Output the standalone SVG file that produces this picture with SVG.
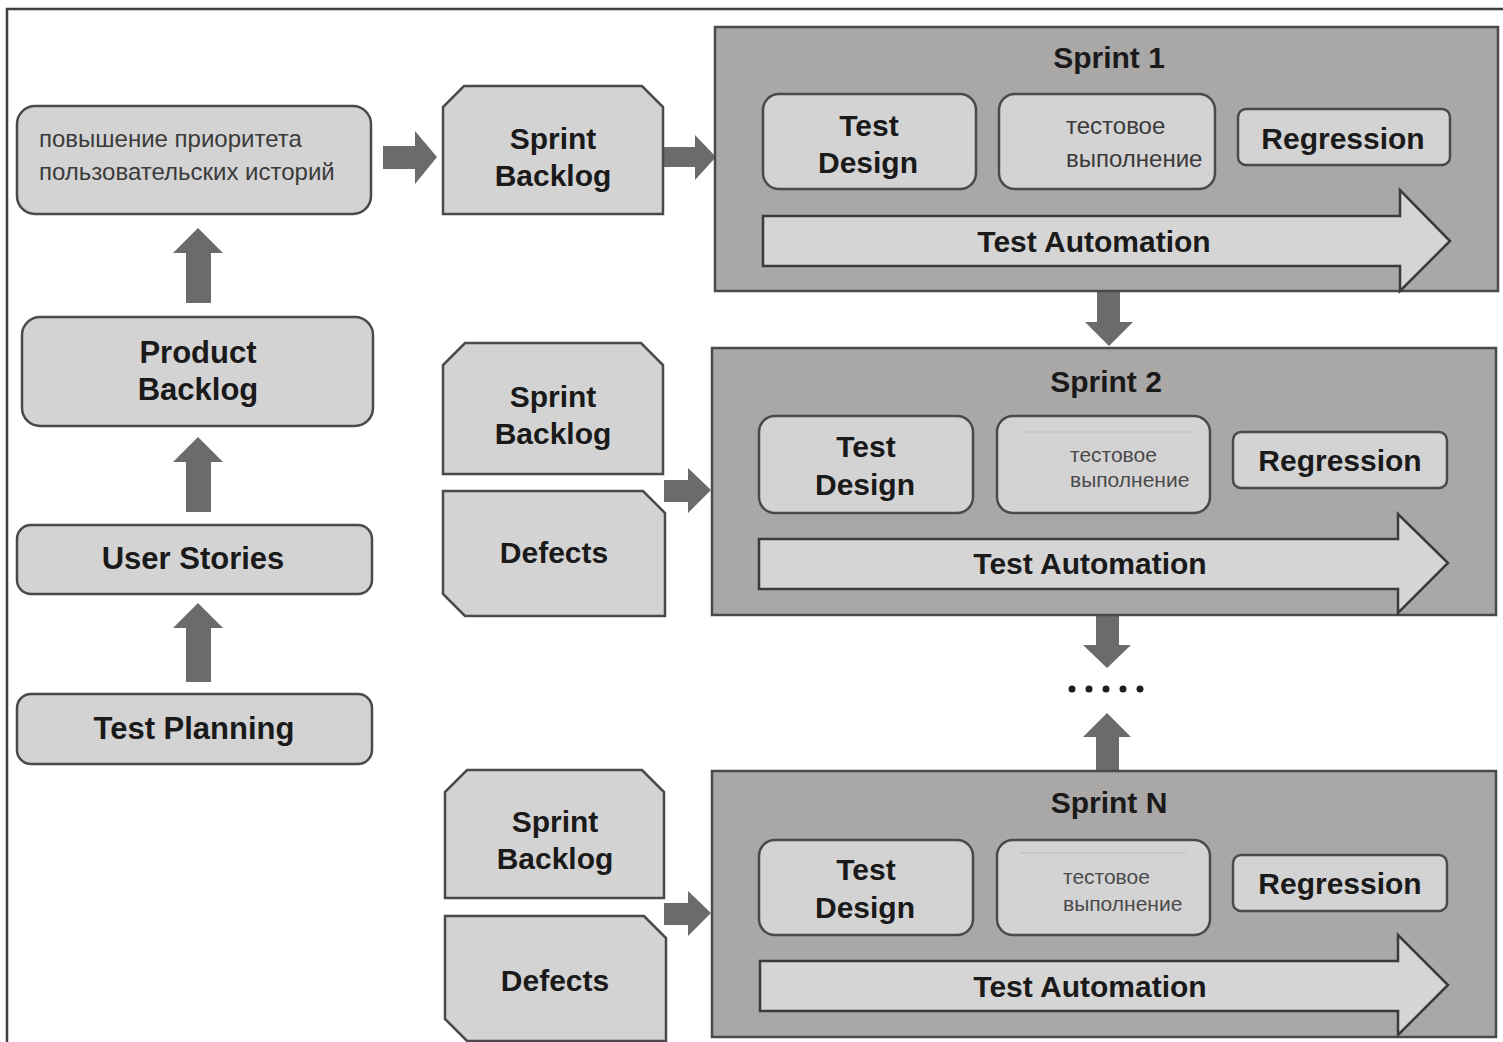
<svg xmlns="http://www.w3.org/2000/svg" width="1503" height="1042" viewBox="0 0 1503 1042">
  <style>
    .frame { fill: none; stroke: #3f3f3f; stroke-width: 2.5; }
    .sprint { fill: #aaa7a7; stroke: #4a4a4a; stroke-width: 2.5; }
    .box { fill: #d4d3d4; stroke: #4a4a4a; stroke-width: 2.5; }
    .flow { fill: #d6d5d6; stroke: #3a3a3a; stroke-width: 2.5; stroke-linejoin: miter; }
    .arrow { fill: #6d6a6b; stroke: none; }
    .dot { fill: #1e1e1e; }
    .lbl { font-family: "Liberation Sans", Arial, sans-serif; font-weight: bold; font-size: 30px; fill: #1a1a1a; text-anchor: middle; }
    .lbl31 { font-size: 31px; }
    .ru { font-family: "Liberation Sans", Arial, sans-serif; font-size: 24px; fill: #3a3a3a; }
    .ru-s { font-size: 21px; fill: #4a4a4a; }
    .artifact { stroke: #bdbcbd; stroke-width: 1; fill: none; }
  </style>

  <rect x="0" y="0" width="1503" height="1042" fill="#ffffff"/>
  <!-- outer frame: top and left edges -->
  <path class="frame" d="M7 1042 V9 H1503"/>

  <!-- connectors -->
  <g id="connectors">
    <!-- left column, upward -->
    <polygon class="arrow" points="186,303 211,303 211,253 223,253 198,228 173,253 186,253"/>
    <polygon class="arrow" points="186,512 211,512 211,462 223,462 198,437 173,462 186,462"/>
    <polygon class="arrow" points="186,682 211,682 211,628 223,628 198,603 173,628 186,628"/>
    <!-- priority -> sprint backlog -->
    <polygon class="arrow" points="383,146 415,146 415,131 437,157 415,184 415,169 383,169"/>
    <!-- sprint backlog -> sprint 1 -->
    <polygon class="arrow" points="664,147 695,147 695,135 716,157 695,180 695,167 664,167"/>
    <!-- backlog/defects -> sprint 2 -->
    <polygon class="arrow" points="664,480 688,480 688,468 711,490 688,513 688,502 664,502"/>
    <!-- backlog/defects -> sprint N -->
    <polygon class="arrow" points="664,903 688,903 688,891 711,913 688,936 688,925 664,925"/>
    <!-- sprint 1 -> sprint 2 -->
    <polygon class="arrow" points="1097,291 1120,291 1120,322 1133,322 1109,346 1085,322 1097,322"/>
    <!-- sprint 2 -> ... -->
    <polygon class="arrow" points="1096,615 1119,615 1119,645 1131,645 1107,668 1083,645 1096,645"/>
    <!-- sprint N -> ... -->
    <polygon class="arrow" points="1096,771 1119,771 1119,737 1131,737 1107,713 1083,737 1096,737"/>
    <!-- continuation dots -->
    <circle class="dot" cx="1072" cy="689" r="3.5"/>
    <circle class="dot" cx="1089" cy="689" r="3.5"/>
    <circle class="dot" cx="1106" cy="689" r="3.5"/>
    <circle class="dot" cx="1123" cy="689" r="3.5"/>
    <circle class="dot" cx="1140" cy="689" r="3.5"/>
  </g>

  <!-- left column -->
  <g id="priority">
    <rect class="box" x="17" y="106" width="354" height="108" rx="18"/>
    <text class="ru" x="39" y="147">повышение приоритета</text>
    <text class="ru" x="39" y="180">пользовательских историй</text>
  </g>
  <g id="product-backlog">
    <rect class="box" x="22" y="317" width="351" height="109" rx="18"/>
    <text class="lbl lbl31" x="198" y="363">Product</text>
    <text class="lbl lbl31" x="198" y="400">Backlog</text>
  </g>
  <g id="user-stories">
    <rect class="box" x="17" y="525" width="355" height="69" rx="14"/>
    <text class="lbl lbl31" x="193" y="569">User Stories</text>
  </g>
  <g id="test-planning">
    <rect class="box" x="17" y="694" width="355" height="70" rx="14"/>
    <text class="lbl lbl31" x="194" y="739">Test Planning</text>
  </g>

  <!-- sprint inputs -->
  <g id="sprint-backlog-1">
    <polygon class="box" points="443,214 443,107 464,86 642,86 663,107 663,214"/>
    <text class="lbl" x="553" y="149">Sprint</text>
    <text class="lbl" x="553" y="186">Backlog</text>
  </g>
  <g id="sprint-backlog-2">
    <polygon class="box" points="443,474 443,365 465,343 641,343 663,365 663,474"/>
    <text class="lbl" x="553" y="407">Sprint</text>
    <text class="lbl" x="553" y="444">Backlog</text>
  </g>
  <g id="defects-2">
    <polygon class="box" points="443,491 643,491 665,513 665,616 465,616 443,594"/>
    <text class="lbl" x="554" y="563">Defects</text>
  </g>
  <g id="sprint-backlog-n">
    <polygon class="box" points="445,898 445,792 467,770 642,770 664,792 664,898"/>
    <text class="lbl" x="555" y="832">Sprint</text>
    <text class="lbl" x="555" y="869">Backlog</text>
  </g>
  <g id="defects-n">
    <polygon class="box" points="445,916 644,916 666,938 666,1041 467,1041 445,1019"/>
    <text class="lbl" x="555" y="991">Defects</text>
  </g>

  <!-- sprint 1 -->
  <g id="sprint-1">
    <rect class="sprint" x="715" y="27" width="783" height="264"/>
    <text class="lbl" x="1109" y="68">Sprint 1</text>
    <rect class="box" x="763" y="94" width="213" height="95" rx="16"/>
    <text class="lbl" x="869" y="136">Test</text>
    <text class="lbl" x="868" y="173">Design</text>
    <rect class="box" x="999" y="94" width="216" height="95" rx="16"/>
    <text class="ru" x="1066" y="134">тестовое</text>
    <text class="ru" x="1066" y="167">выполнение</text>
    <rect class="box" x="1238" y="109" width="212" height="56" rx="8"/>
    <text class="lbl" x="1343" y="149">Regression</text>
    <polygon class="flow" points="763,216 1400,216 1400,190 1450,241 1400,291 1400,266 763,266"/>
    <text class="lbl" x="1094" y="252">Test Automation</text>
  </g>

  <!-- sprint 2 -->
  <g id="sprint-2">
    <rect class="sprint" x="712" y="348" width="784" height="267"/>
    <text class="lbl" x="1106" y="392">Sprint 2</text>
    <rect class="box" x="759" y="416" width="214" height="97" rx="16"/>
    <text class="lbl" x="866" y="457">Test</text>
    <text class="lbl" x="865" y="495">Design</text>
    <rect class="box" x="997" y="416" width="213" height="97" rx="16"/>
    <path class="artifact" d="M1022 432 H1190"/>
    <text class="ru ru-s" x="1070" y="462">тестовое</text>
    <text class="ru ru-s" x="1070" y="487">выполнение</text>
    <rect class="box" x="1233" y="432" width="214" height="56" rx="8"/>
    <text class="lbl" x="1340" y="471">Regression</text>
    <polygon class="flow" points="759,539 1398,539 1398,514 1448,563 1398,613 1398,589 759,589"/>
    <text class="lbl" x="1090" y="574">Test Automation</text>
  </g>

  <!-- sprint N -->
  <g id="sprint-n">
    <rect class="sprint" x="712" y="771" width="784" height="266"/>
    <text class="lbl" x="1109" y="813">Sprint N</text>
    <rect class="box" x="759" y="840" width="214" height="95" rx="16"/>
    <text class="lbl" x="866" y="880">Test</text>
    <text class="lbl" x="865" y="918">Design</text>
    <rect class="box" x="997" y="840" width="213" height="95" rx="16"/>
    <path class="artifact" d="M1020 853 H1186"/>
    <text class="ru ru-s" x="1063" y="884">тестовое</text>
    <text class="ru ru-s" x="1063" y="911">выполнение</text>
    <rect class="box" x="1233" y="855" width="214" height="56" rx="8"/>
    <text class="lbl" x="1340" y="894">Regression</text>
    <polygon class="flow" points="760,961 1398,961 1398,935 1448,985 1398,1035 1398,1011 760,1011"/>
    <text class="lbl" x="1090" y="997">Test Automation</text>
  </g>
</svg>
